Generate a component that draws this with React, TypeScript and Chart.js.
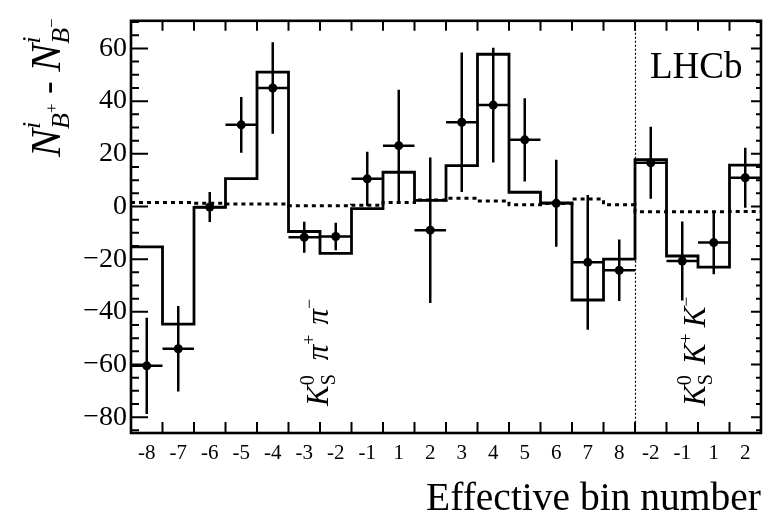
import React, { useEffect, useRef } from 'react';
import { Chart, registerables } from 'chart.js';

Chart.register(...registerables);

// ---------- data ----------
const binLabels = ['-8', '-7', '-6', '-5', '-4', '-3', '-2', '-1', '1', '2', '3', '4', '5', '6', '7', '8', '-2', '-1', '1', '2'];
const histValues = [-15.3, -44.7, -0.3, 10.6, 51.0, -9.5, -17.8, -0.8, 13.0, 2.3, 15.5, 57.8, 5.4, 1.4, -35.5, -20.0, 17.8, -18.8, -23.0, 15.7];
const dataValues = [-60.5, -54.0, -0.2, 31.0, 45.0, -11.7, -11.4, 10.5, 23.1, -9.0, 32.0, 38.5, 25.3, 1.2, -21.2, -24.2, 16.6, -20.7, -13.7, 10.9];
const dataErrors = [18.3, 16.2, 5.7, 10.6, 17.4, 5.9, 5.2, 10.3, 21.2, 27.6, 26.5, 21.8, 15.8, 16.5, 25.6, 11.7, 13.7, 15.0, 12.0, 11.4];
const modelValues = [1.5, 1.5, 1.2, 0.9, 0.9, 0.3, 0.3, 0.5, 1.5, 2.5, 3.1, 2.1, 0.7, 1.1, 2.8, 0.7, -2.0, -2.0, -2.0, -1.9];
const yTicks = [-80, -60, -40, -20, 0, 20, 40, 60];
const yMin = -86;
const yMax = 70.5;
const separatorAt = 16; // boundary between the two decay modes
const xTitle = 'Effective bin number';
const experiment = 'LHCb';

const SERIF = '"Liberation Serif", "Times New Roman", serif';
const F = (size: number, italic = false) => `${italic ? 'italic ' : ''}${size}px ${SERIF}`;

function steps(vals: number[]) {
  const pts: { x: number; y: number }[] = [];
  vals.forEach((v, i) => {
    pts.push({ x: i, y: v });
    pts.push({ x: i + 1, y: v });
  });
  return pts;
}

type Part = { t: string; f: string; dy: number; stay?: boolean; gap?: number };
function drawRich(ctx: CanvasRenderingContext2D, x: number, y: number, parts: Part[]) {
  ctx.save();
  ctx.translate(x, y);
  ctx.rotate(-Math.PI / 2);
  ctx.textAlign = 'left';
  ctx.textBaseline = 'alphabetic';
  ctx.fillStyle = '#000';
  let pen = 0;
  let stackW = 0;
  for (const p of parts) {
    if (p.gap) pen += p.gap;
    ctx.font = p.f;
    const w = ctx.measureText(p.t).width;
    ctx.fillText(p.t, pen, p.dy);
    if (p.stay) stackW = Math.max(stackW, w);
    else {
      pen += Math.max(w, stackW);
      stackW = 0;
    }
  }
  ctx.restore();
}

const decor = {
  id: 'decor',
  beforeDatasetsDraw(chart: any) {
    const { ctx, scales } = chart;
    const x = scales.x;
    const y = scales.y;
    ctx.save();
    ctx.strokeStyle = '#000';
    ctx.lineWidth = 2.5;
    ctx.setLineDash([]);
    dataValues.forEach((v, i) => {
      const px = x.getPixelForValue(i + 0.5);
      const py = y.getPixelForValue(v);
      ctx.beginPath();
      ctx.moveTo(px, y.getPixelForValue(v - dataErrors[i]));
      ctx.lineTo(px, y.getPixelForValue(v + dataErrors[i]));
      ctx.moveTo(x.getPixelForValue(i), py);
      ctx.lineTo(x.getPixelForValue(i + 1), py);
      ctx.stroke();
    });
    // separator
    const sx = Math.round(x.getPixelForValue(separatorAt)) + 0.5;
    ctx.lineWidth = 1.2;
    ctx.setLineDash([2, 2]);
    ctx.beginPath();
    ctx.moveTo(sx, chart.chartArea.top);
    ctx.lineTo(sx, chart.chartArea.bottom);
    ctx.stroke();
    ctx.restore();
  },
  afterDraw(chart: any) {
    const { ctx, chartArea: a, scales } = chart;
    const x = scales.x;
    const y = scales.y;
    ctx.save();
    ctx.strokeStyle = '#000';
    ctx.setLineDash([]);
    ctx.lineWidth = 2;
    // y ticks
    for (let v = -85; v <= 70; v += 5) {
      const py = y.getPixelForValue(v);
      const major = v % 20 === 0;
      ctx.beginPath();
      ctx.moveTo(a.left, py);
      ctx.lineTo(a.left + (major ? 17 : 8), py);
      ctx.moveTo(a.right, py);
      ctx.lineTo(a.right - (major ? 10 : 5), py);
      ctx.stroke();
    }
    // x ticks at bin boundaries
    for (let k = 1; k < binLabels.length; k++) {
      const px = x.getPixelForValue(k);
      ctx.beginPath();
      ctx.moveTo(px, a.top);
      ctx.lineTo(px, a.top + 10);
      ctx.moveTo(px, a.bottom);
      ctx.lineTo(px, a.bottom - 11);
      ctx.stroke();
    }
    // frame
    ctx.lineWidth = 2.6;
    ctx.strokeRect(a.left, a.top, a.right - a.left, a.bottom - a.top);

    // texts
    ctx.fillStyle = '#000';
    ctx.font = F(37);
    ctx.textAlign = 'left';
    ctx.textBaseline = 'alphabetic';
    ctx.fillText(experiment, 650, 78);

    ctx.font = F(39.5);
    ctx.textAlign = 'right';
    ctx.fillText(xTitle, 761, 510);

    drawRich(ctx, 60, 157, [
      { t: 'N', f: F(42, true), dy: 0 },
      { t: 'i', f: F(26, true), dy: -20, stay: true },
      { t: 'B', f: F(26, true), dy: 9 },
      { t: '+', f: F(17), dy: -3 },
      { t: ' - ', f: F(38), dy: 0 },
      { t: 'N', f: F(42, true), dy: 0 },
      { t: 'i', f: F(26, true), dy: -20, stay: true },
      { t: 'B', f: F(26, true), dy: 9 },
      { t: '\u2212', f: F(17), dy: -3 },
    ]);

    drawRich(ctx, 328, 406, [
      { t: 'K', f: F(31, true), dy: 0 },
      { t: '0', f: F(20), dy: -14, stay: true },
      { t: 'S', f: F(20), dy: 7 },
      { t: '\u03c0', f: F(31, true), dy: 0, gap: 14 },
      { t: '+', f: F(18), dy: -13 },
      { t: '\u03c0', f: F(31, true), dy: 0, gap: 10 },
      { t: '\u2212', f: F(18), dy: -13 },
    ]);

    drawRich(ctx, 705, 406, [
      { t: 'K', f: F(31, true), dy: 0 },
      { t: '0', f: F(20), dy: -14, stay: true },
      { t: 'S', f: F(20), dy: 7 },
      { t: 'K', f: F(31, true), dy: 0, gap: 10 },
      { t: '+', f: F(18), dy: -13 },
      { t: 'K', f: F(31, true), dy: 0, gap: 6 },
      { t: '\u2212', f: F(18), dy: -13 },
    ]);
    ctx.restore();
  },
};

export default function App() {
  const ref = useRef<HTMLCanvasElement | null>(null);
  useEffect(() => {
    if (!ref.current) return;
    const chart = new Chart(ref.current, {
      type: 'line',
      data: {
        datasets: [
          {
            type: 'scatter',
            data: dataValues.map((v, i) => ({ x: i + 0.5, y: v })),
            pointRadius: 4.5,
            pointBackgroundColor: '#000',
            pointBorderWidth: 0,
            order: 0,
          } as any,
          {
            data: steps(histValues),
            borderColor: '#000',
            borderWidth: 2.8,
            pointRadius: 0,
            fill: false,
            tension: 0,
            order: 1,
          },
          {
            data: steps(modelValues),
            borderColor: '#000',
            borderWidth: 3,
            borderDash: [4, 4],
            pointRadius: 0,
            fill: false,
            tension: 0,
            order: 2,
          },
        ],
      },
      options: {
        animation: false,
        responsive: false,
        maintainAspectRatio: false,
        layout: { padding: { left: 0, right: 8, top: 10, bottom: 0 } },
        plugins: { legend: { display: false }, tooltip: { enabled: false } },
        scales: {
          x: {
            type: 'linear',
            min: 0,
            max: binLabels.length,
            grid: { display: false, drawTicks: false },
            border: { display: false },
            afterBuildTicks: (s: any) => {
              s.ticks = binLabels.map((_, i) => ({ value: i + 0.5 }));
            },
            afterFit: (s: any) => {
              s.height = 83;
            },
            ticks: {
              autoSkip: false,
              maxRotation: 0,
              padding: 8,
              color: '#000',
              font: { family: SERIF, size: 21 },
              callback: (_v: any, i: number) => binLabels[i],
            },
          },
          y: {
            min: yMin,
            max: yMax,
            grid: { display: false, drawTicks: false },
            border: { display: false },
            afterBuildTicks: (s: any) => {
              s.ticks = yTicks.map((v) => ({ value: v }));
            },
            afterFit: (s: any) => {
              s.width = 131;
            },
            ticks: {
              padding: 4,
              color: '#000',
              font: { family: SERIF, size: 28 },
              callback: (v: any) => (Number(v) < 0 ? '\u2212' + Math.abs(Number(v)) : String(v)),
            },
          },
        },
      },
      plugins: [decor],
    } as any);
    return () => chart.destroy();
  }, []);
  return (
    <div style={{ position: 'absolute', left: 0, top: 0, width: 769, height: 516, background: '#fff' }}>
      <canvas ref={ref} width={769} height={516} />
    </div>
  );
}
